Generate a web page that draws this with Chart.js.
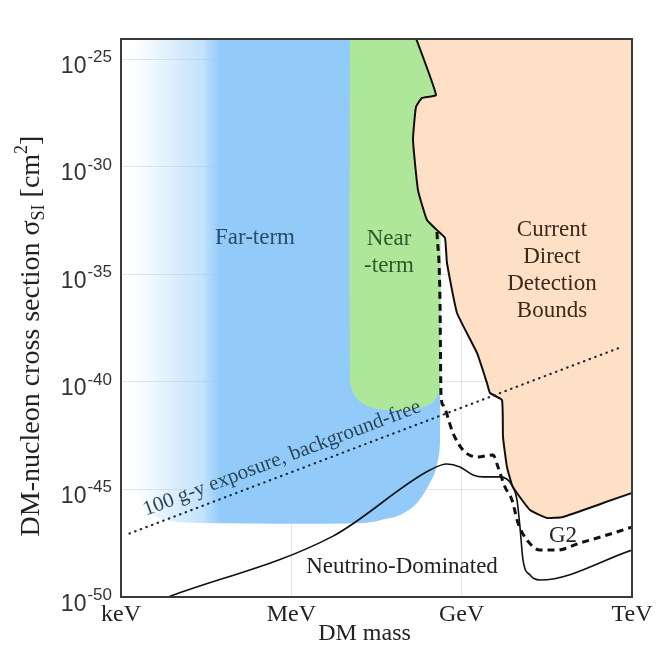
<!DOCTYPE html>
<html>
<head>
<meta charset="utf-8">
<title>DM-nucleon cross section</title>
<script src="https://cdn.jsdelivr.net/npm/chart.js@4.4.0/dist/chart.umd.min.js"></script>
<style>
body { margin: 0; background: #fff; }
</style>
</head>
<body>
<canvas id="chart_dm" width="659" height="656"></canvas>
<script>
// masses are log10(m / GeV), cross sections log10(sigma / cm^2)
var massTicks = [-6, -3, 0, 3]
var massNames = ["keV", "MeV", "GeV", "TeV"]
var sigmaTicks = [-50, -45, -40, -35, -30, -25]
var sigmaTop = -24.07

// far-term reach (blue)
var farM = [-5.75, -5.753, -5.718, -5.63, -5.454, -5.137, -4.609, -1.738, -1.262, -1.086, -0.787, -0.505, -0.435, -0.382, -0.382]
var farS = [-23.5, -44.1, -45.03, -45.72, -46.19, -46.47, -46.56, -46.56, -46.33, -46.19, -45.63, -44.42, -43.87, -42.84, -23.5]
var farFade = [-5.79, -4.26]

// near-term reach (green)
var nearM = [-1.967, -1.967, -1.914, -1.755, -1.474, -0.91, -0.593, -0.435, -0.382, -0.382]
var nearS = [-23.5, -39.68, -40.47, -40.99, -41.26, -41.31, -41.08, -40.71, -40.15, -23.5]

// current direct detection bound, closed over the top right corner
var boundM = [-0.88, -0.452, -0.699, -0.805, -0.857, -0.769, -0.611, -0.435, -0.294, -0.259, -0.082, 0.27, 0.446, 0.499, 0.71, 0.728, 0.798, 0.886, 0.974, 1.203, 1.503, 1.785, 3.0, 3.5, 3.5]
var boundS = [-23.5, -26.67, -26.81, -27.23, -28.76, -31.09, -32.48, -32.95, -33.32, -34.48, -36.8, -38.66, -40.06, -40.52, -40.85, -42.57, -43.96, -44.8, -45.17, -45.96, -46.33, -46.28, -45.17, -44.9, -23.5]

// G2 projection (dashed)
var g2M = [-0.435, -0.382, -0.364, -0.329, -0.153, 0.023, 0.27, 0.552, 0.64, 0.763, 0.886, 0.992, 1.15, 1.379, 1.679, 2.084, 2.559, 3.0]
var g2S = [-33.04, -36.2, -40.61, -41.08, -42.38, -43.17, -43.49, -43.4, -43.96, -44.89, -45.49, -46.56, -47.35, -47.82, -47.82, -47.49, -47.12, -46.75]

// neutrino floor
var nuM = [-5.172, -2.266, -0.558, -0.259, -0.03, 0.199, 0.376, 0.675, 0.886, 0.974, 1.027, 1.08, 1.203, 1.379, 3.0]
var nuS = [-50.0, -47.17, -44.1, -43.82, -43.96, -44.33, -44.42, -44.42, -44.8, -45.49, -46.75, -48.28, -48.98, -49.21, -47.82]

// 100 g-y exposure, background-free
var expoM = [-5.85, 2.8]
var expoS = [-47.05, -38.4]

var blue = "rgb(146, 203, 249)"
var green = "rgb(174, 231, 153)"
var peach = "rgb(253, 224, 197)"
var serif = "'Liberation Serif', 'Times New Roman', serif"
var sans = "'Liberation Sans', Arial, sans-serif"

function pts(m, s) {
	return m.map(function(v, i){ return {x: Math.pow(10, v), y: Math.pow(10, s[i])} })
}

function farFill(c) {
	var chart = c.chart
	if (!chart.chartArea) return blue
	var xs = chart.scales.x
	var g = chart.ctx.createLinearGradient(xs.getPixelForValue(Math.pow(10, farFade[0])), 0, xs.getPixelForValue(Math.pow(10, farFade[1])), 0)
	g.addColorStop(0, "rgba(146, 203, 249, 0)")
	g.addColorStop(0.8, "rgba(146, 203, 249, 0.55)")
	g.addColorStop(1, blue)
	return g
}

// text placed in data coordinates
var notes = [
	{lines: ["Far-term"], m: -3.64, s: -33.32, color: "#2d4b66"},
	{lines: ["Near", "-term"], m: -1.28, s: -33.99, color: "#2e5a2b"},
	{lines: ["Current", "Direct", "Detection", "Bounds"], m: 1.59, s: -34.83, color: "#3a2a1c"},
	{lines: ["Neutrino-Dominated"], m: -1.05, s: -48.6, color: "#222"},
	{lines: ["G2"], m: 1.785, s: -47.17, color: "#222"}
]

var decorations = {
	id: "decorations",
	afterDatasetsDraw: function(chart){
		var ctx = chart.ctx, xs = chart.scales.x, ys = chart.scales.y, a = chart.chartArea
		ctx.save()
		ctx.font = "23px " + serif
		ctx.textAlign = "center"
		ctx.textBaseline = "middle"
		notes.forEach(function(n){
			var px = xs.getPixelForValue(Math.pow(10, n.m))
			var py = ys.getPixelForValue(Math.pow(10, n.s))
			ctx.fillStyle = n.color
			n.lines.forEach(function(t, i){
				ctx.fillText(t, px, py + (i - (n.lines.length - 1) / 2) * 27)
			})
		})

		// label along the exposure line
		var x0 = xs.getPixelForValue(Math.pow(10, expoM[0])), y0 = ys.getPixelForValue(Math.pow(10, expoS[0]))
		var x1 = xs.getPixelForValue(Math.pow(10, expoM[1])), y1 = ys.getPixelForValue(Math.pow(10, expoS[1]))
		ctx.translate(xs.getPixelForValue(Math.pow(10, -3.13)), ys.getPixelForValue(Math.pow(10, -43.8)))
		ctx.rotate(Math.atan2(y1 - y0, x1 - x0))
		ctx.font = "21px " + serif
		ctx.fillStyle = "#2c4658"
		ctx.textBaseline = "alphabetic"
		ctx.fillText("100 g-y exposure, background-free", 0, 0)
		ctx.restore()

		// frame
		ctx.save()
		ctx.strokeStyle = "#3a3a3a"
		ctx.lineWidth = 2
		ctx.strokeRect(a.left, a.top, a.right - a.left, a.bottom - a.top)
		ctx.restore()
	},
	afterDraw: function(chart){
		var ctx = chart.ctx, ys = chart.scales.y, a = chart.chartArea
		ctx.save()
		ctx.fillStyle = "#333"
		ctx.textAlign = "right"
		ctx.textBaseline = "alphabetic"
		sigmaTicks.forEach(function(e){
			var py = ys.getPixelForValue(Math.pow(10, e))
			var right = a.left - 9
			ctx.font = "17px " + sans
			var w = ctx.measureText(String(e)).width
			ctx.fillText(String(e), right, py + 3)
			ctx.font = "23px " + sans
			ctx.fillText("10", right - w - 1, py + 13.5)
		})
		ctx.restore()

		// x title
		ctx.save()
		ctx.fillStyle = "#222"
		ctx.font = "24px " + serif
		ctx.textAlign = "center"
		ctx.textBaseline = "alphabetic"
		ctx.fillText("DM mass", (a.left + a.right) / 2 - 12, 640)
		ctx.restore()

		// y title with subscript and superscript
		var parts = [
			{t: "DM-nucleon cross section \u03c3", size: 28, dy: 0},
			{t: "SI", size: 18, dy: 5},
			{t: " [cm", size: 28, dy: 0},
			{t: "2", size: 18, dy: -12},
			{t: "]", size: 28, dy: 0}
		]
		ctx.save()
		ctx.fillStyle = "#222"
		ctx.textBaseline = "alphabetic"
		ctx.textAlign = "left"
		var total = 0
		parts.forEach(function(p){ ctx.font = p.size + "px " + serif; p.w = ctx.measureText(p.t).width; total += p.w })
		ctx.translate(39, 336)
		ctx.rotate(-Math.PI / 2)
		var cx = -total / 2
		parts.forEach(function(p){
			ctx.font = p.size + "px " + serif
			ctx.fillText(p.t, cx, p.dy)
			cx += p.w
		})
		ctx.restore()
	}
}

var ctx = document.getElementById("chart_dm")
var myChart = new Chart(ctx, {
	type: 'line',
	data: {
		datasets: [
			{label: 'Far-term', data: pts(farM, farS), fill: 'shape', borderWidth: 0, backgroundColor: farFill, tension: 0.35, order: 6},
			{label: 'Near-term', data: pts(nearM, nearS), fill: 'shape', borderWidth: 0, backgroundColor: green, tension: 0.35, order: 5},
			{label: 'Current bounds', data: pts(boundM, boundS), fill: 'shape', borderWidth: 2, borderColor: '#111', backgroundColor: peach, tension: 0.12, order: 4},
			{label: 'Neutrino floor', data: pts(nuM, nuS), fill: false, borderWidth: 1.6, borderColor: '#111', cubicInterpolationMode: 'monotone', order: 3},
			{label: 'G2', data: pts(g2M, g2S), fill: false, borderWidth: 3, borderColor: '#111', borderDash: [7, 5], cubicInterpolationMode: 'monotone', order: 2},
			{label: '100 g-y', data: pts(expoM, expoS), fill: false, borderWidth: 2.2, borderColor: '#1d2a35', borderDash: [0.5, 5.5], borderCapStyle: 'round', order: 1}
		]
	},
	options: {
		responsive: false,
		animation: false,
		layout: {padding: {top: 39, right: 27, left: 0, bottom: 0}},
		elements: {point: {radius: 0}, line: {tension: 0}},
		plugins: {legend: {display: false}, tooltip: {enabled: false}},
		scales: {
			x: {
				type: 'logarithmic',
				min: Math.pow(10, massTicks[0]),
				max: Math.pow(10, massTicks[massTicks.length - 1]),
				afterBuildTicks: function(scale){ scale.ticks = massTicks.map(function(v){ return {value: Math.pow(10, v)} }) },
				afterFit: function(scale){ scale.height = 59 },
				ticks: {
					autoSkip: false, maxRotation: 0, padding: 3, color: '#222',
					font: {family: serif, size: 24},
					callback: function(v, i){ return massNames[i] }
				},
				grid: {color: 'rgba(0,0,0,0.1)', drawTicks: false},
				border: {display: false}
			},
			y: {
				type: 'logarithmic',
				min: Math.pow(10, sigmaTicks[0]),
				max: Math.pow(10, sigmaTop),
				afterBuildTicks: function(scale){ scale.ticks = sigmaTicks.map(function(v){ return {value: Math.pow(10, v)} }) },
				afterFit: function(scale){ scale.width = 121 },
				ticks: {display: false},
				grid: {color: 'rgba(0,0,0,0.1)', drawTicks: false},
				border: {display: false}
			}
		}
	},
	plugins: [decorations]
})
</script>
</body>
</html>
